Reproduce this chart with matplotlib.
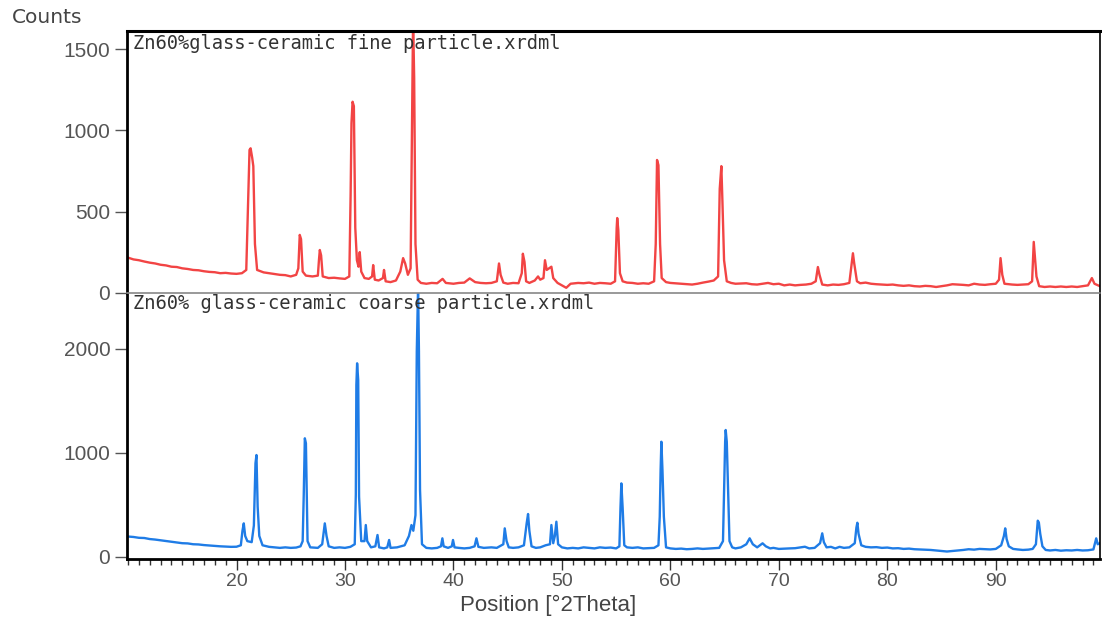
import matplotlib
matplotlib.use("Agg")
import matplotlib.pyplot as plt
from matplotlib.ticker import MultipleLocator

plt.rcParams['font.family'] = ['Liberation Sans', 'DejaVu Sans']

# fine particle pattern (red)
fine_x = [9.9, 10.5, 11, 11.5, 12, 12.5, 13, 13.5, 14, 14.5, 15, 15.5, 16, 16.5, 17, 17.5, 18, 18.5, 19, 19.5,
          20, 20.5, 20.9, 21.05, 21.2, 21.3, 21.45, 21.55, 21.7, 21.9, 22.5, 23, 23.5, 24, 24.5, 25, 25.5, 25.7,
          25.83, 25.95, 26.1, 26.4, 27, 27.5, 27.6, 27.68, 27.8, 27.95, 28.5, 29, 29.5, 30, 30.4, 30.52, 30.6,
          30.7, 30.82, 30.95, 31.1, 31.25, 31.36, 31.5, 31.8, 32.2, 32.5, 32.6, 32.75, 33.1, 33.5, 33.6, 33.75,
          34.2, 34.7, 35.1, 35.36, 35.55, 35.8, 36.05, 36.18, 36.28, 36.38, 36.5, 36.7, 37, 37.5, 38, 38.5, 39,
          39.3, 40, 40.5, 41, 41.5, 42, 42.5, 43, 43.5, 44, 44.2, 44.35, 44.6, 45, 45.5, 46, 46.3, 46.4, 46.55,
          46.7, 47, 47.5, 47.8, 48, 48.3, 48.44, 48.6, 49.03, 49.2, 49.6, 50, 50.4, 50.8, 51.5, 52, 52.5, 53,
          53.5, 54, 54.5, 54.9, 55.05, 55.1, 55.2, 55.35, 55.6, 56, 56.5, 57, 57.5, 58, 58.5, 58.65, 58.77, 58.9,
          59.05, 59.2, 59.6, 60, 61, 61.5, 62, 62.5, 63, 63.5, 64, 64.4, 64.55, 64.7, 64.8, 64.95, 65.2, 65.6,
          66, 67, 67.5, 68, 68.5, 69, 69.5, 70, 70.5, 71, 71.5, 72, 72.5, 73, 73.4, 73.6, 73.75, 74, 74.5, 75,
          75.5, 76, 76.5, 76.75, 76.83, 76.95, 77.2, 77.5, 78, 78.5, 79, 79.5, 80, 80.5, 81, 81.5, 82, 82.5, 83,
          83.5, 84, 84.5, 85, 85.5, 86, 86.5, 87, 87.5, 88, 88.5, 89, 89.5, 90, 90.3, 90.44, 90.6, 90.8, 91.5,
          92, 92.5, 93, 93.35, 93.5, 93.6, 93.75, 94, 94.5, 95, 95.5, 96, 96.5, 97, 97.5, 98, 98.5, 98.86, 99.1,
          99.6]
fine_y = [218, 205, 200, 192, 185, 180, 172, 168, 160, 158, 150, 146, 140, 138, 132, 128, 126, 120, 122, 118,
          116, 120, 140, 500, 880, 890, 830, 780, 300, 140, 125, 120, 115, 110, 108, 100, 110, 150,
          356, 330, 130, 105, 100, 105, 200, 263, 230, 100, 90, 92, 88, 85, 100, 600, 1045,
          1177, 1150, 400, 200, 160, 250, 130, 90, 85, 100, 170, 80, 75, 90, 140, 70,
          65, 75, 130, 213, 180, 110, 150, 1000, 1700, 1322, 300, 80, 60, 55, 60, 58, 85,
          60, 55, 60, 62, 88, 65, 60, 58, 60, 70, 180, 110, 62, 55, 60, 58, 120, 240, 190,
          70, 60, 75, 100, 80, 90, 200, 140, 160, 90, 60, 45, 30, 55, 60, 58, 62, 55,
          60, 58, 55, 70, 400, 460, 385, 120, 70, 62, 60, 55, 58, 55, 70, 300, 818, 786,
          300, 90, 65, 60, 55, 52, 50, 55, 62, 68, 75, 100, 640, 780, 560, 200, 70, 60,
          55, 58, 52, 50, 55, 60, 52, 55, 45, 50, 45, 48, 50, 55, 70, 158, 110, 50, 45, 50,
          48, 52, 60, 200, 243, 180, 70, 58, 62, 55, 52, 50, 48, 50, 45, 42, 45, 40, 38,
          42, 40, 35, 40, 45, 52, 50, 48, 45, 55, 50, 48, 52, 55, 80, 213, 110, 55, 50,
          48, 50, 52, 70, 313, 230, 100, 40, 35, 38, 35, 38, 35, 38, 35, 40, 45, 90, 55,
          40]

# coarse particle pattern (blue)
coarse_x = [9.9, 10.5, 11, 11.5, 12, 12.5, 13, 13.5, 14, 14.5, 15, 15.5, 16, 16.5, 17, 17.5, 18, 18.5, 19, 19.5,
            20, 20.4, 20.55, 20.67, 20.8, 21.0, 21.4, 21.6, 21.75, 21.84, 21.95, 22.1, 22.4, 23, 23.5, 24, 24.5,
            25, 25.5, 25.9, 26.1, 26.2, 26.3, 26.4, 26.55, 26.8, 27.5, 27.9, 28.05, 28.14, 28.3, 28.5, 29, 29.5,
            30, 30.5, 30.9, 31.0, 31.05, 31.12, 31.22, 31.3, 31.5, 31.8, 31.92, 32.05, 32.4, 32.8, 33.0, 33.15,
            33.6, 33.9, 34.07, 34.2, 34.8, 35.5, 35.9, 36.13, 36.3, 36.5, 36.62, 36.74, 36.82, 36.92, 37.1, 37.5,
            38, 38.5, 38.85, 38.98, 39.1, 39.5, 39.85, 39.96, 40.1, 40.5, 41, 41.5, 41.95, 42.12, 42.3, 42.8,
            43.5, 44, 44.6, 44.73, 44.9, 45.1, 45.5, 46, 46.5, 46.75, 46.88, 47.0, 47.2, 47.6, 48, 48.5, 48.9,
            49.03, 49.2, 49.35, 49.49, 49.65, 50, 50.5, 51, 51.5, 52, 52.5, 53, 53.5, 54, 54.5, 55, 55.3, 55.4,
            55.48, 55.6, 55.75, 56, 56.5, 57, 57.5, 58, 58.5, 58.9, 59.02, 59.1, 59.17, 59.27, 59.4, 59.6, 60,
            60.5, 61, 61.5, 62, 62.5, 63, 63.5, 64, 64.5, 64.85, 64.97, 65.05, 65.1, 65.2, 65.3, 65.45, 65.7, 66,
            66.5, 67, 67.31, 67.6, 68, 68.5, 68.8, 69.2, 69.5, 70, 70.5, 71, 71.5, 72, 72.4, 72.8, 73.3, 73.8,
            74.0, 74.15, 74.4, 74.8, 75.2, 75.6, 76, 76.5, 77.0, 77.15, 77.24, 77.35, 77.6, 78, 78.5, 79, 79.5,
            80, 80.5, 81, 81.5, 82, 82.5, 83, 83.5, 84, 84.5, 85, 85.5, 86, 86.5, 87, 87.5, 88, 88.5, 89, 89.5,
            90, 90.5, 90.75, 90.87, 91.0, 91.2, 91.6, 92, 92.5, 93, 93.4, 93.7, 93.87, 93.97, 94.1, 94.3, 94.6,
            95, 95.5, 96, 96.5, 97, 97.5, 98, 98.5, 99, 99.2, 99.26, 99.4, 99.6]
coarse_y = [195, 190, 182, 180, 170, 165, 158, 150, 145, 138, 130, 128, 120, 118, 112, 108, 104, 100, 98, 95,
            96, 110, 250, 321, 200, 150, 140, 300, 900, 979, 481, 200, 110, 95, 90, 85, 90,
            85, 88, 100, 150, 600, 1140, 1092, 150, 90, 85, 120, 250, 321, 200, 100, 85, 90,
            85, 95, 120, 600, 1653, 1862, 1700, 578, 150, 150, 305, 150, 90, 100, 209, 90,
            80, 90, 161, 85, 90, 110, 200, 305, 250, 400, 1974, 2600, 1974, 642, 120, 85,
            80, 85, 100, 177, 100, 85, 100, 161, 90, 85, 80, 85, 100, 177, 95, 85,
            90, 85, 120, 273, 150, 90, 85, 90, 110, 321, 411, 250, 100, 85, 90, 110, 120,
            305, 130, 200, 337, 120, 90, 80, 85, 80, 90, 85, 80, 90, 85, 88, 80, 100, 469,
            706, 469, 110, 90, 85, 90, 80, 82, 85, 110, 385, 835, 1107, 835, 385, 90, 80,
            75, 78, 72, 75, 80, 75, 78, 80, 85, 150, 722, 1107, 1220, 1107, 722, 150, 90, 80,
            90, 120, 177, 120, 90, 129, 100, 80, 85, 75, 78, 80, 82, 90, 96, 80, 85, 130,
            225, 140, 90, 95, 80, 95, 85, 90, 130, 280, 327, 220, 110, 95, 90, 92, 85,
            88, 80, 82, 75, 78, 72, 70, 68, 65, 60, 55, 50, 55, 60, 65, 72, 68, 75, 72, 70,
            75, 110, 200, 273, 170, 100, 75, 70, 65, 68, 75, 120, 347, 330, 220, 100, 65,
            60, 65, 58, 62, 60, 65, 60, 62, 70, 150, 177, 120, 130]

fine_label = "Zn60%glass-ceramic fine particle.xrdml"
coarse_label = "Zn60% glass-ceramic coarse particle.xrdml"
fine_yticks = [0, 500, 1000, 1500]
coarse_yticks = [0, 1000, 2000]
x_ticks = [20, 30, 40, 50, 60, 70, 80, 90]

grey = '#555555'
fig = plt.figure(figsize=(11.02, 6.29), dpi=100)
ax1 = fig.add_axes([0.1152, 0.5342, 0.8829, 0.4165])
ax2 = fig.add_axes([0.1152, 0.1113, 0.8829, 0.4229], sharex=ax1)

ax1.plot(fine_x, fine_y, color='#f24444', lw=1.7)
ax2.plot(coarse_x, coarse_y, color='#1f7ce6', lw=1.7)

ax1.set_xlim(9.9, 99.6)
ax1.set_ylim(-2, 1613)
ax2.set_ylim(-22, 2539)
ax1.set_yticks(fine_yticks)
ax2.set_yticks(coarse_yticks)
ax2.set_xticks(x_ticks)
ax2.xaxis.set_minor_locator(MultipleLocator(1))

for ax in (ax1, ax2):
    ax.tick_params(axis='y', direction='out', length=9, width=1, color=grey,
                   labelcolor=grey, labelsize=15, pad=3)
    for s in ax.spines.values():
        s.set_color('black')
        s.set_linewidth(1.2)
    ax.spines['left'].set_linewidth(2)

ax1.tick_params(axis='x', bottom=False, labelbottom=False)
ax1.spines['top'].set_linewidth(2.2)
ax1.spines['bottom'].set_visible(False)
ax2.spines['top'].set_color('#888888')
ax2.spines['bottom'].set_linewidth(2)
ax2.tick_params(axis='x', which='major', direction='out', length=8, width=1, color='#333333',
                labelcolor=grey, labelsize=14, pad=2)
ax2.tick_params(axis='x', which='minor', direction='out', length=4, width=1, color='#333333')

# the instrument software spaces its labels out, a mono face gets the width right
ax1.text(0.006, 0.99, fine_label, transform=ax1.transAxes, va='top', ha='left',
         fontsize=13.5, color='#333333', family='DejaVu Sans Mono')
ax2.text(0.006, 0.995, coarse_label, transform=ax2.transAxes, va='top', ha='left',
         fontsize=13.5, color='#333333', family='DejaVu Sans Mono')

fig.text(0.011, 0.972, "Counts", fontsize=14.5, color='#444444', va='center', ha='left',
         family='DejaVu Sans')
ax2.set_xlabel("Position [°2Theta]", fontsize=16, color='#444444')
ax2.xaxis.set_label_coords(0.433, -0.135)

fig.savefig("out.png", dpi=100)
